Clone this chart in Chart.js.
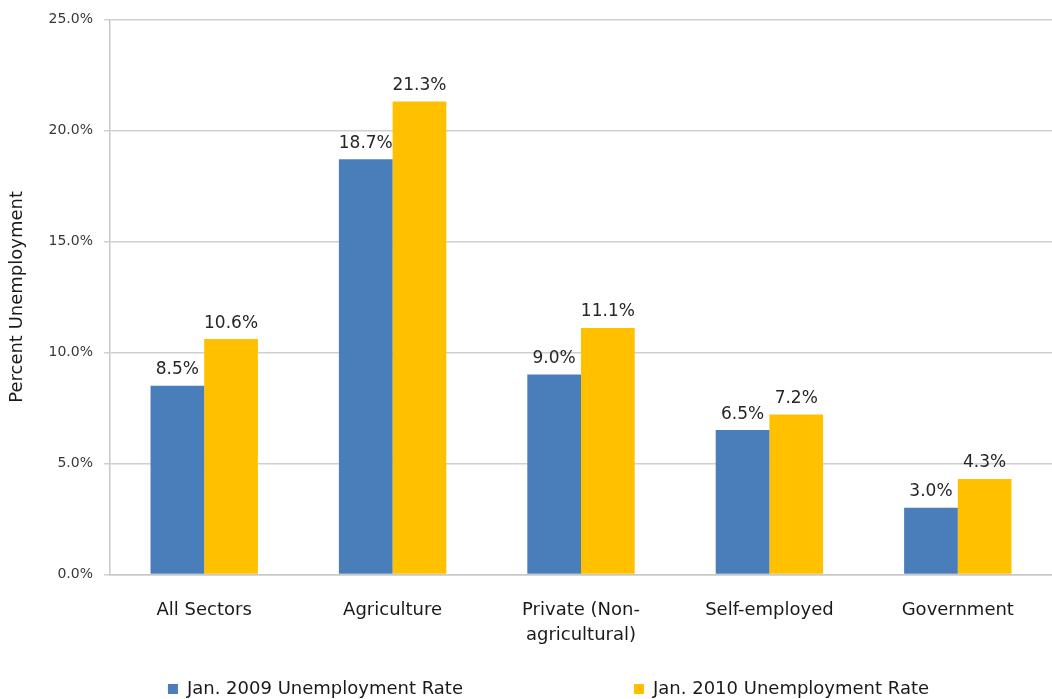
<!DOCTYPE html>
<html><head><meta charset="utf-8">
<script src="https://cdn.jsdelivr.net/npm/chart.js@4/dist/chart.umd.min.js"></script>
<style>html,body{margin:0;padding:0;background:#fff}#wrap{width:1052px;height:699px;position:relative}</style>
</head><body><div id="wrap"><canvas id="c"></canvas></div>
<script>
const categories = ['All Sectors', 'Agriculture', ['Private (Non-', 'agricultural)'], 'Self-employed', 'Government'];
const seriesNames = ['Jan. 2009 Unemployment Rate', 'Jan. 2010 Unemployment Rate'];
const rate2009 = [8.5, 18.7, 9.0, 6.5, 3.0];
const rate2010 = [10.6, 21.3, 11.1, 7.2, 4.3];
const yTickValues = [0, 5, 10, 15, 20, 25];
const yTitle = 'Percent Unemployment';

const FONT = "'DejaVu Sans', sans-serif";
const BLUE = '#4a7ebb';
const GOLD = '#ffc000';

const barLabels = {
  id: 'barLabels',
  afterDatasetsDraw(chart) {
    const ctx = chart.ctx;
    ctx.save();
    ctx.font = '17px ' + FONT;
    ctx.fillStyle = '#262626';
    ctx.textAlign = 'center';
    ctx.textBaseline = 'alphabetic';
    chart.data.datasets.forEach((ds, di) => {
      const meta = chart.getDatasetMeta(di);
      meta.data.forEach((el, i) => {
        ctx.fillText(ds.data[i].toFixed(1) + '%', el.x, el.y - 11.5);
      });
    });
    ctx.restore();
  }
};

new Chart(document.getElementById('c'), {
  type: 'bar',
  data: {
    labels: categories,
    datasets: [
      { label: seriesNames[0], data: rate2009, backgroundColor: BLUE, borderWidth: 0 },
      { label: seriesNames[1], data: rate2010, backgroundColor: GOLD, borderWidth: 0 }
    ]
  },
  plugins: [barLabels],
  options: {
    responsive: true,
    maintainAspectRatio: false,
    animation: false,
    categoryPercentage: 0.57,
    barPercentage: 1.0,
    layout: { padding: { left: 45, right: 0, top: 18, bottom: -9 } },
    plugins: {
      tooltip: { enabled: false },
      legend: {
        position: 'bottom',
        align: 'center',
        labels: {
          font: { family: FONT, size: 18 },
          color: '#1a1a1a',
          boxWidth: 10,
          boxHeight: 10,
          padding: 9,
          generateLabels(chart) {
            const items = Chart.defaults.plugins.legend.labels.generateLabels(chart);
            items.forEach((it, i) => {
              it.lineWidth = 0;
              if (i === 0) it.text = it.text + '\u2003'.repeat(9);
            });
            return items;
          }
        }
      }
    },
    scales: {
      x: {
        grid: { display: false, drawTicks: false },
        border: { display: true, color: '#c8c8c8', width: 1.5 },
        ticks: {
          font: { family: FONT, size: 18, lineHeight: 1.35 },
          color: '#1a1a1a',
          padding: 24,
          maxRotation: 0,
          autoSkip: false
        }
      },
      y: {
        min: 0,
        max: 25,
        afterBuildTicks(scale) { scale.ticks = yTickValues.map(v => ({ value: v })); },
        afterFit(scale) { scale.width = 65; },
        grid: { color: '#d0d0d0', lineWidth: 1.5, tickLength: 6 },
        border: { display: true, color: '#c8c8c8', width: 1.5 },
        ticks: {
          font: { family: FONT, size: 14 },
          color: '#383838',
          padding: 11,
          callback: v => Number(v).toFixed(1) + '%'
        },
        title: {
          display: true,
          text: yTitle,
          font: { family: FONT, size: 18 },
          color: '#1a1a1a',
          padding: { top: -38, bottom: 0 }
        }
      }
    }
  }
});
</script>
</body></html>
